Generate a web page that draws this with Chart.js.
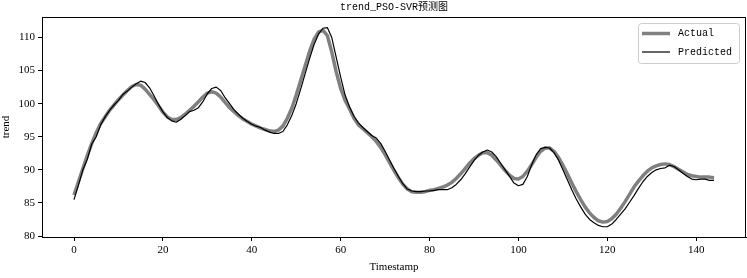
<!DOCTYPE html>
<html>
<head>
<meta charset="utf-8">
<script src="https://cdn.jsdelivr.net/npm/chart.js@4"></script>
<style>
  html, body { margin: 0; padding: 0; background: #fff; }
  canvas { display: block; }
</style>
</head>
<body>
<canvas id="chart" width="747" height="278"></canvas>
<script>
const TITLE = "trend_PSO-SVR预测图";
const X_TICKS = [0, 20, 40, 60, 80, 100, 120, 140];
const Y_TICKS = [80, 85, 90, 95, 100, 105, 110];

const actual = [
  86.2, 88.2, 90.2, 92.2, 94.0, 95.6, 97.0, 98.0, 99.0, 99.8,
  100.6, 101.3, 102.0, 102.6, 102.9, 102.8, 102.2, 101.4, 100.6, 99.7,
  98.7, 98.0, 97.6, 97.6, 97.9, 98.4, 99.0, 99.6, 100.3, 101.0,
  101.6, 101.8, 101.6, 101.0, 100.2, 99.4, 98.8, 98.2, 97.7, 97.3,
  96.9, 96.6, 96.3, 96.1, 95.9, 95.8, 96.0, 96.6, 97.8, 99.3,
  101.3, 103.5, 105.7, 107.9, 109.7, 110.8, 111.1, 110.3, 107.8, 104.8,
  102.3, 100.5, 99.2, 97.8, 96.8, 96.2, 95.6, 95.0, 94.3, 93.4,
  92.3, 91.1, 89.9, 88.8, 87.8, 87.1, 86.7, 86.6, 86.6, 86.7,
  86.9, 87.0, 87.2, 87.4, 87.7, 88.1, 88.7, 89.4, 90.2, 91.0,
  91.7, 92.2, 92.6, 92.6, 92.2, 91.5, 90.7, 89.9, 89.2, 88.7,
  88.6, 89.0, 89.8, 90.8, 91.9, 92.8, 93.3, 93.3, 92.8, 91.9,
  90.7, 89.4, 88.0, 86.7, 85.5, 84.4, 83.5, 82.8, 82.3, 82.1,
  82.2, 82.6, 83.3, 84.2, 85.2, 86.3, 87.4, 88.3, 89.1, 89.8,
  90.3, 90.6, 90.8, 90.9, 90.8, 90.5, 90.1, 89.7, 89.3, 89.1,
  89.0, 88.9, 88.9, 88.9, 88.8
];

const predicted = [
  85.5, 87.7, 90.0, 91.6, 93.9, 95.0, 96.8, 98.0, 99.0, 99.8,
  100.5, 101.4, 101.9, 102.5, 103.0, 103.4, 103.2, 102.4, 101.2, 99.9,
  98.8, 97.9, 97.4, 97.2, 97.6, 98.2, 98.8, 99.0, 99.4, 100.3,
  101.5, 102.3, 102.5, 102.0, 100.9, 100.0, 99.1, 98.4, 97.8, 97.3,
  96.9, 96.6, 96.4, 96.0, 95.7, 95.5, 95.5, 95.8, 96.8, 98.2,
  100.0, 102.2, 104.5, 106.8, 108.9, 110.5, 111.4, 111.5, 110.0, 107.0,
  104.0, 101.3, 99.5, 98.1, 97.1, 96.4, 95.8, 95.2, 94.8, 94.0,
  92.8, 91.5, 90.2, 89.0, 87.9, 87.1, 86.8, 86.7, 86.7, 86.8,
  86.8, 86.9, 87.0, 87.0, 87.0, 87.3, 87.8, 88.5, 89.4, 90.4,
  91.4, 92.2, 92.7, 93.0, 92.7, 92.0, 91.0, 90.0, 89.0, 88.0,
  87.6, 87.8, 89.0, 90.8, 92.3, 93.2, 93.4, 93.3, 92.6, 91.5,
  90.0, 88.5, 87.0, 85.6, 84.4, 83.3, 82.5, 82.0, 81.6, 81.4,
  81.4, 81.8, 82.5, 83.3, 84.1, 85.1, 86.1, 87.2, 88.2, 89.0,
  89.6, 90.0, 90.2, 90.3, 90.7, 90.5, 90.0, 89.5, 89.0, 88.6,
  88.5, 88.6, 88.6, 88.4, 88.4
];

const timestamps = actual.map((_, i) => i);

const SERIF = "'Liberation Serif', 'Times New Roman', serif";
const MONO = "'Liberation Mono', 'DejaVu Sans Mono', 'Noto Sans CJK SC', monospace";

// matplotlib-style closed frame plus a boxed legend in the upper right
const framePlugin = {
  id: "frame",
  afterDatasetsDraw(chart) {
    const { ctx, chartArea: a } = chart;
    ctx.save();
    ctx.strokeStyle = "#000";
    ctx.lineWidth = 1;
    ctx.strokeRect(a.left + 0.5, a.top + 0.5, a.right - a.left - 1, a.bottom - a.top);

    const bx = a.right - 108, by = a.top + 6, bw = 101, bh = 40;
    ctx.fillStyle = "rgba(255,255,255,0.85)";
    ctx.strokeStyle = "#cccccc";
    ctx.beginPath();
    ctx.roundRect(bx + 0.5, by + 0.5, bw, bh, 3);
    ctx.fill();
    ctx.stroke();

    ctx.font = "10px " + MONO;
    ctx.textBaseline = "middle";
    ctx.fillStyle = "#000";
    chart.data.datasets.forEach((ds, i) => {
      const y = by + 10.5 + i * 18.5;
      ctx.strokeStyle = ds.borderColor;
      ctx.lineWidth = ds.borderWidth;
      ctx.beginPath();
      ctx.moveTo(bx + 4, y);
      ctx.lineTo(bx + 32, y);
      ctx.stroke();
      ctx.fillText(ds.label, bx + 40, y);
    });
    ctx.restore();
  },
};

new Chart(document.getElementById("chart"), {
  type: "line",
  data: {
    datasets: [
      {
        label: "Actual",
        data: timestamps.map((t, i) => ({ x: t, y: actual[i] })),
        borderColor: "#808080",
        borderWidth: 3.5,
        order: 2,
      },
      {
        label: "Predicted",
        data: timestamps.map((t, i) => ({ x: t, y: predicted[i] })),
        borderColor: "#000000",
        borderWidth: 1.2,
        order: 1,
      },
    ],
  },
  options: {
    responsive: false,
    devicePixelRatio: 1,
    animation: false,
    layout: { padding: { left: 0, right: 1, top: 0, bottom: 0 } },
    elements: {
      point: { radius: 0 },
      line: { tension: 0, borderJoinStyle: "round", fill: false },
    },
    plugins: {
      legend: { display: false },
      tooltip: { enabled: false },
      title: {
        display: true,
        text: TITLE,
        fullSize: false,
        color: "#000",
        font: { family: MONO, size: 10, weight: "normal" },
        padding: { top: 1, bottom: 4 },
      },
    },
    scales: {
      x: {
        type: "linear",
        min: -7.2,
        max: 151.2,
        afterBuildTicks: (s) => { s.ticks = X_TICKS.map((v) => ({ value: v })); },
        afterFit: (s) => { s.height = 41; },
        grid: { drawOnChartArea: false, drawTicks: true, tickLength: 4, color: "#000" },
        border: { display: true, color: "#000" },
        ticks: { color: "#000", font: { family: SERIF, size: 11 }, padding: 3, maxRotation: 0 },
        title: {
          display: true,
          text: "Timestamp",
          color: "#000",
          font: { family: SERIF, size: 11 },
          padding: { top: 0, bottom: 4 },
        },
      },
      y: {
        type: "linear",
        min: 79.85,
        max: 113.1,
        afterBuildTicks: (s) => { s.ticks = Y_TICKS.map((v) => ({ value: v })); },
        afterFit: (s) => { s.width = 42; },
        grid: { drawOnChartArea: false, drawTicks: true, tickLength: 4, color: "#000" },
        border: { display: true, color: "#000" },
        ticks: { color: "#000", font: { family: SERIF, size: 11 }, padding: 3 },
        title: {
          display: true,
          text: "trend",
          color: "#000",
          font: { family: SERIF, size: 11 },
          padding: { top: 0, bottom: 0 },
        },
      },
    },
  },
  plugins: [framePlugin],
});
</script>
</body>
</html>
